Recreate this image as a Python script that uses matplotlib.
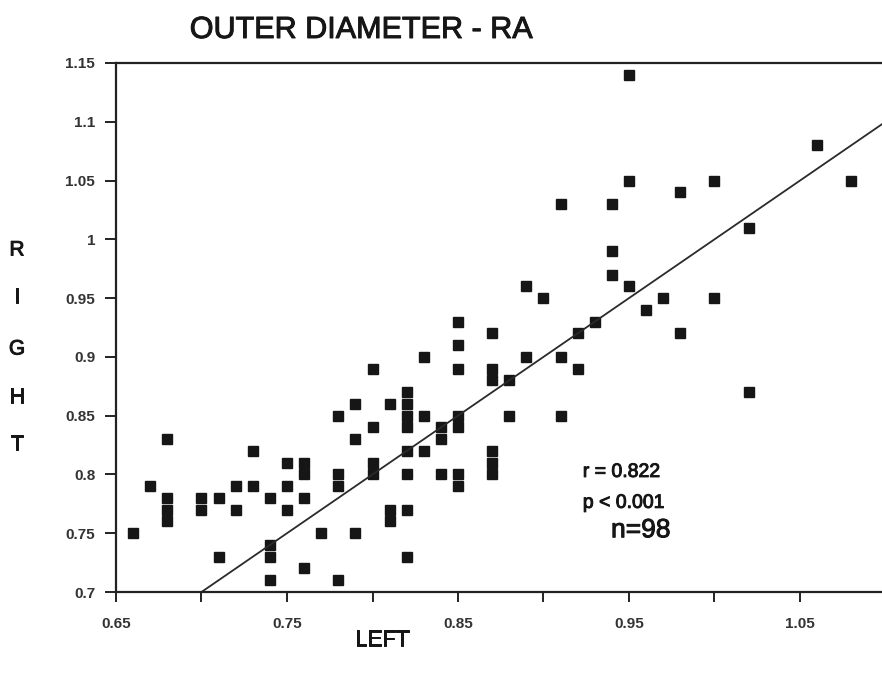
import numpy as np
import matplotlib.pyplot as plt
import matplotlib.patheffects as pe

plt.rcParams['font.family'] = ['Liberation Sans', 'DejaVu Sans']

# left / right outer diameter readings
left = [0.66, 0.67, 0.68, 0.68, 0.68, 0.68, 0.70, 0.70, 0.71, 0.71,
        0.72, 0.72, 0.73, 0.73, 0.74, 0.74, 0.74, 0.74, 0.75, 0.75,
        0.75, 0.76, 0.76, 0.76, 0.76, 0.77, 0.78, 0.78, 0.78, 0.78,
        0.79, 0.79, 0.79, 0.80, 0.80, 0.80, 0.80, 0.81, 0.81, 0.81,
        0.82, 0.82, 0.82, 0.82, 0.82, 0.82, 0.82, 0.82, 0.83, 0.83,
        0.83, 0.84, 0.84, 0.84, 0.85, 0.85, 0.85, 0.85, 0.85, 0.85,
        0.85, 0.87, 0.87, 0.87, 0.87, 0.87, 0.87, 0.88, 0.88, 0.89,
        0.89, 0.90, 0.91, 0.91, 0.92, 0.92, 0.93, 0.94, 0.94, 0.95,
        0.95, 1.06, 1.08, 0.91, 0.94, 0.95, 0.98, 1.00, 1.02, 0.97,
        0.96, 1.00, 0.98, 1.02]
right = [0.75, 0.79, 0.83, 0.78, 0.77, 0.76, 0.78, 0.77, 0.78, 0.73,
         0.79, 0.77, 0.82, 0.79, 0.78, 0.74, 0.73, 0.71, 0.81, 0.79,
         0.77, 0.81, 0.80, 0.78, 0.72, 0.75, 0.85, 0.80, 0.79, 0.71,
         0.86, 0.83, 0.75, 0.89, 0.84, 0.81, 0.80, 0.86, 0.77, 0.76,
         0.87, 0.86, 0.85, 0.84, 0.82, 0.80, 0.77, 0.73, 0.90, 0.85,
         0.82, 0.84, 0.83, 0.80, 0.93, 0.91, 0.89, 0.85, 0.84, 0.80,
         0.79, 0.92, 0.89, 0.88, 0.82, 0.81, 0.80, 0.88, 0.85, 0.96,
         0.90, 0.95, 0.90, 0.85, 0.92, 0.89, 0.93, 0.99, 0.97, 0.96,
         1.14, 1.08, 1.05, 1.03, 1.03, 1.05, 1.04, 1.05, 1.01, 0.95,
         0.94, 0.95, 0.92, 0.87]

# line of identity (right = left)
line_x = [0.65, 1.15]
line_y = [0.65, 1.15]

yticks = [0.7, 0.75, 0.8, 0.85, 0.9, 0.95, 1.0, 1.05, 1.1, 1.15]
ytick_labels = ['0.7', '0.75', '0.8', '0.85', '0.9', '0.95', '1', '1.05', '1.1', '1.15']
xticks = [0.65, 0.75, 0.85, 0.95, 1.05]
xtick_labels = ['0.65', '0.75', '0.85', '0.95', '1.05']
xminor = [0.70, 0.80, 0.90, 1.00]

ink = '#161616'
heavy = [pe.withStroke(linewidth=0.7, foreground=ink)]

fig = plt.figure(figsize=(8.82, 6.82), dpi=100)
ax = fig.add_axes([116/882, 1 - 592/682, (882 - 116)/882, (592 - 63)/682])

ax.plot(left, right, 's', color=ink, ms=7, mec=ink)
ax.plot(line_x, line_y, color='#2a2a2a', lw=1.3)

ax.set_xlim(0.65, 0.65 + 766/1710)
ax.set_ylim(0.7, 1.15)
ax.set_xticks(xticks)
ax.set_xticklabels(xtick_labels, fontsize=11, fontweight='bold', color='#333333')
ax.set_xticks(xminor, minor=True)
ax.set_yticks(yticks)
ax.set_yticklabels(ytick_labels, fontsize=11, fontweight='bold', color='#333333')
ax.tick_params(axis='y', direction='out', length=8, width=1.4, pad=7, color='#222222')
ax.tick_params(axis='x', which='both', direction='out', length=7, width=1.4, pad=11, color='#222222')
ax.spines['right'].set_visible(False)
for s in ['left', 'top', 'bottom']:
    ax.spines[s].set_linewidth(1.6)
    ax.spines[s].set_color('#222222')

ax.text(0.923, 0.8017, 'r = 0.822', fontsize=14, va='center', color=ink, path_effects=heavy)
ax.text(0.923, 0.7754, 'p < 0.001', fontsize=14, va='center', color=ink, path_effects=heavy)
ax.text(0.9395, 0.7525, 'n=98', fontsize=19, va='center', color=ink, path_effects=heavy)

fig.text(361/882, 1 - 30/682, 'OUTER DIAMETER - RA', fontsize=22, ha='center', va='center',
         color=ink, path_effects=heavy)
fig.text(382/882, 1 - 640/682, 'LEFT', fontsize=16, ha='center', va='center', color=ink,
         path_effects=heavy)
for letter, ypix in zip('RIGHT', [250, 297, 349, 397, 444]):
    fig.text(17/882, 1 - ypix/682, letter, fontsize=15, ha='center', va='center', color=ink,
             path_effects=heavy)

fig.savefig('out.png', dpi=100, facecolor='white')
